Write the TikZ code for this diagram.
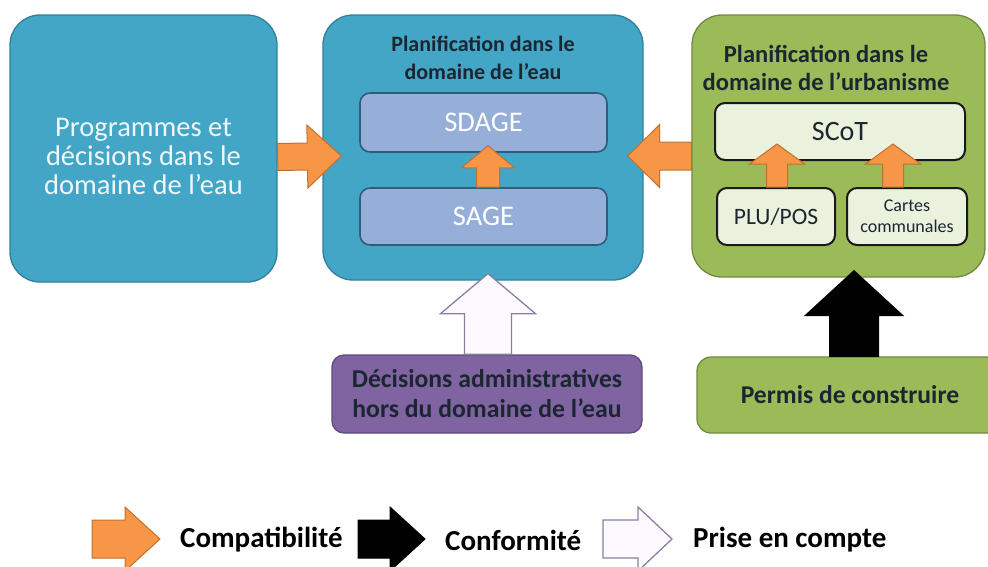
\documentclass[tikz,border=0pt]{standalone}
\usepackage{fontspec}
\setmainfont{Carlito}
\usetikzlibrary{calc}

\definecolor{eaufill}{HTML}{43A6C6}
\definecolor{eauline}{HTML}{317F99}
\definecolor{planfill}{HTML}{95AFD8}
\definecolor{planline}{HTML}{2E5E7A}
\definecolor{urbafill}{HTML}{9BBB59}
\definecolor{urbaline}{HTML}{71893F}
\definecolor{scotfill}{HTML}{EAF1DD}
\definecolor{decfill}{HTML}{8064A2}
\definecolor{decline}{HTML}{5F4B7B}
\definecolor{arrorange}{HTML}{F79646}
\definecolor{arrorangeline}{HTML}{C0712E}
\definecolor{arrwhite}{HTML}{FCFAFF}
\definecolor{arrwhiteline}{HTML}{8A7FA3}
\definecolor{titletext}{HTML}{1B2631}
\definecolor{progtext}{HTML}{EEF7FA}

\newcommand{\setfs}[2]{\fontsize{#1}{#2}\selectfont}

% block arrow drawn as a to path
\tikzset{
  shaftw/.store in=\shaftw, shaftw=14,
  headw/.store in=\headw, headw=32,
  headl/.store in=\headl, headl=34,
  block/.style={to path={let \p1=($(\tikztotarget)-(\tikztostart)$),
      \n1={veclen(\x1,\y1)}, \n2={atan2(\y1,\x1)} in
    ($(\tikztostart)+(\n2+90:\shaftw pt)$) -- ++(\n2:\n1-\headl pt)
    -- ++(\n2+90:\headw pt-\shaftw pt) -- (\tikztotarget)
    -- ($(\tikztotarget)+(\n2+180:\headl pt)+(\n2-90:\headw pt)$)
    -- ++(\n2+90:\headw pt-\shaftw pt)
    -- ($(\tikztostart)+(\n2-90:\shaftw pt)$) -- cycle}},
}

\begin{document}
\begin{tikzpicture}[x=1pt, y=-1pt,
  box/.style={draw, line width=1.3pt, rounded corners=30pt, inner sep=0pt},
  inner/.style={draw, line width=1.6pt, rounded corners=10pt, inner sep=0pt},
  urbin/.style={draw=black!90, fill=scotfill, line width=2pt, rounded corners=10pt, inner sep=0pt, text=titletext},
  title/.style={font=\bfseries\setfs{#1}{28}, text=titletext, align=center, inner sep=0pt},
  legend/.style={font=\bfseries\setfs{29}{30}, text=black, inner sep=0pt, anchor=west},
  compat/.style={fill=arrorange, draw=arrorangeline, line width=1pt},
  conform/.style={fill=black, draw=black, line width=1pt},
  prise/.style={fill=arrwhite, draw=arrwhiteline, line width=1.3pt},
]
\useasboundingbox (0,0) rectangle (988,566);

% --- Main boxes ---
\node[box, fill=eaufill, draw=eauline, minimum width=267pt, minimum height=267pt] (prog) at (143.5,148.5) {};
\node[box, fill=eaufill, draw=eauline, minimum width=320pt, minimum height=265pt] (eau) at (483,147.5) {};
\node[box, fill=urbafill, draw=urbaline, minimum width=293pt, minimum height=262pt] (urba) at (838.5,146) {};

\node[text=progtext, align=center, font=\setfs{28.5}{29}] (progtxt) at (143.5,156) {Programmes et\\décisions dans le\\domaine de l’eau};
\node[title=22] (eautitle) at (483,57.5) {Planification dans le\\domaine de l’eau};
\node[title=24.5, text depth=0pt] (urbatitle) at (826,68) {Planification dans le\\domaine de l’urbanisme};

% --- Inner boxes ---
\node[inner, fill=planfill, draw=planline, minimum width=247pt, minimum height=59pt, text=white, font=\setfs{28.5}{30}] (sdage) at (483.5,122.5) {SDAGE};
\node[inner, fill=planfill, draw=planline, minimum width=247pt, minimum height=57pt, text=white, font=\setfs{28.5}{30}] (sage) at (483.5,216.5) {SAGE};
\node[urbin, minimum width=250pt, minimum height=57pt, font=\setfs{28}{30}] (scot) at (840,131.5) {SCoT};
\node[urbin, minimum width=118pt, minimum height=57pt, font=\setfs{23.5}{26}] (plu) at (776,216.5) {PLU/POS};
\node[urbin, minimum width=120pt, minimum height=57pt, font=\setfs{18}{21}, align=center] (cartes) at (907,216.5) {Cartes\\communales};

% --- Bottom boxes ---
\node[draw=decline, fill=decfill, line width=1.3pt, rounded corners=12pt, minimum width=310pt, minimum height=78pt, font=\bfseries\setfs{25.7}{30}, text=titletext, align=center] (dec) at (487,394) {Décisions administratives\\hors du domaine de l’eau};
\node[draw=urbaline, fill=urbafill, line width=1.3pt, rounded corners=14pt, minimum width=306pt, minimum height=76pt, font=\bfseries\setfs{25.6}{30}, text=titletext] (permis) at (850,395) {Permis de construire};

% --- Arrows ---
\draw[compat, shaftw=13.5, headw=31.5, headl=34] ($(prog.east)+(0,8.5)$) to[block] ($(eau.west)+(19,8.5)$);
\draw[compat, shaftw=14, headw=31.5, headl=32] ($(urba.west)+(0,10)$) to[block] ($(eau.east)+(-16,8.5)$);
\draw[compat, shaftw=11.5, headw=26.5, headl=22] ($(sage.north)+(4.5,0)$) to[block] ($(sdage.south)+(4.5,-7)$);
\draw[compat, shaftw=10.5, headw=27.5, headl=20] ($(plu.north)+(1,0)$) to[block] ($(plu.north |- scot.south)+(1,-17)$);
\draw[compat, shaftw=10.5, headw=27.5, headl=20] ($(cartes.north)+(-14,0)$) to[block] ($(cartes.north |- scot.south)+(-14,-17)$);
\draw[prise, shaftw=23.5, headw=47.5, headl=40] ($(dec.north)+(1,0)$) to[block] ($(dec.north |- eau.south)+(1,-7)$);
\draw[conform, shaftw=24.5, headw=49, headl=45] ($(permis.north)+(4,0)$) to[block] ($(permis.north |- urba.south)+(4,-7)$);

% --- Legend ---
\node[legend] (lcompat) at (180,540) {Compatibilité};
\node[legend] (lconform) at (445,540) {Conformité};
\node[legend] (lprise) at (693,540) {Prise en compte};
\draw[compat, shaftw=19, headw=32, headl=35] ($(lcompat.west)+(-88,-1)$) to[block] ($(lcompat.west)+(-20,-1)$);
\draw[conform, shaftw=19, headw=32, headl=35] ($(lconform.west)+(-87,-1)$) to[block] ($(lconform.west)+(-20,-1)$);
\draw[prise, shaftw=19, headw=32, headl=34] ($(lprise.west)+(-90,-1)$) to[block] ($(lprise.west)+(-21,-1)$);

\end{tikzpicture}
\end{document}
